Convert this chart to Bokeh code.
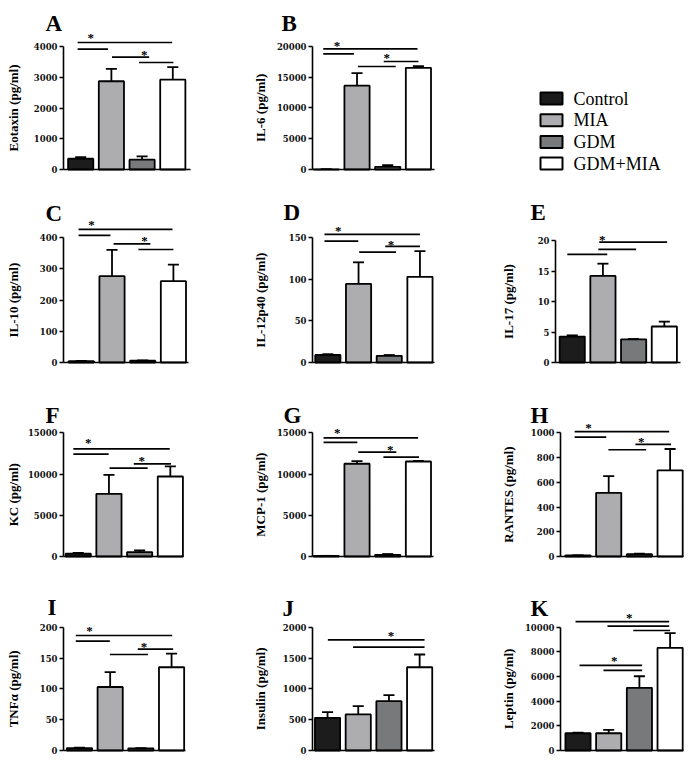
import math
from bokeh.plotting import figure
from bokeh.layouts import column, row
from bokeh.models import FixedTicker, Label, Range1d
from bokeh.core.properties import value
from bokeh.embed import file_html
from bokeh.resources import INLINE

# ---------------- data ----------------
groups = ["Control", "MIA", "GDM", "GDM+MIA"]
colors = ["#1c1c1c", "#adadb0", "#78797b", "#ffffff"]
group_x = [1, 2, 3, 4]

eotaxin = [350, 2870, 320, 2920]
eotaxin_err = [50, 400, 110, 410]
il6 = [30, 13600, 430, 16500]
il6_err = [20, 2030, 270, 270]
il10 = [4, 277, 6, 261]
il10_err = [1, 84, 1, 53]
il12p40 = [9, 94.5, 8, 103]
il12p40_err = [1, 26, 1, 31]
il17 = [4.25, 14.2, 3.8, 5.9]
il17_err = [0.2, 2.0, 0.05, 0.8]
kc = [360, 7600, 530, 9700]
kc_err = [70, 2300, 200, 1220]
mcp1 = [60, 11250, 200, 11520]
mcp1_err = [20, 320, 100, 60]
rantes = [8, 515, 18, 697]
rantes_err = [2, 134, 5, 172]
tnfa = [4, 103, 3.5, 135]
tnfa_err = [0.5, 24, 0.5, 22]
insulin = [530, 585, 800, 1350]
insulin_err = [92, 135, 97, 207]
leptin = [1400, 1400, 5080, 8330]
leptin_err = [50, 270, 940, 1190]

# significance bars: (from group position, to group position, level)
eotaxin_sig = [(0.9, 3.98, 4130), (0.9, 1.89, 3912), (2.02, 3.23, 3652), (2.9, 4.02, 3480)]
eotaxin_star = [(1.33, 4358), (3.07, 3805)]
il6_sig = [(0.9, 3.97, 19578), (0.9, 1.9, 18767), (2.03, 3.26, 16707), (2.87, 4.0, 17518)]
il6_star = [(1.35, 20487), (2.97, 18491)]
il10_sig = [(0.91, 3.97, 427), (0.91, 1.95, 407.5), (2.05, 3.25, 380.7), (2.86, 4.0, 362.5)]
il10_star = [(1.33, 448), (3.06, 396.8)]
il12p40_sig = [(0.89, 4.0, 154), (0.89, 1.99, 146), (2.02, 3.22, 132.7), (2.87, 4.0, 139.6)]
il12p40_star = [(1.34, 160.8), (3.06, 144)]
il17_sig = [(1.88, 4.09, 19.73), (1.85, 3.08, 18.53), (0.84, 2.14, 17.72)]
il17_star = [(1.98, 20.43)]
kc_sig = [(0.84, 3.98, 13060), (0.84, 1.99, 12414), (2.02, 3.26, 10716), (2.81, 4.02, 11241)]
kc_star = [(1.33, 14071), (3.07, 11848)]
mcp1_sig = [(0.91, 3.99, 14394), (0.91, 2.01, 13828), (2.04, 3.28, 12655), (2.86, 4.02, 12049)]
mcp1_star = [(1.36, 15283), (3.08, 13181)]
rantes_sig = [(0.89, 3.97, 1010), (0.89, 1.92, 965), (1.99, 3.22, 863), (2.87, 4.03, 906)]
rantes_star = [(1.34, 1059), (3.06, 944)]
tnfa_sig = [(0.88, 4.02, 186.5), (0.88, 1.99, 177.3), (1.99, 3.23, 155.7), (2.9, 4.05, 164.3)]
tnfa_star = [(1.33, 197.3), (3.1, 171.4)]
insulin_sig = [(1.01, 4.16, 1795), (1.83, 4.16, 1676)]
insulin_star = [(3.07, 1903)]
leptin_sig = [(0.92, 3.97, 10457), (1.96, 3.97, 10081), (2.8, 4.0, 9731), (1.05, 3.09, 6909), (1.83, 3.09, 6505)]
leptin_star = [(2.67, 10941), (2.18, 7446)]

eotaxin_ticks = [0, 1000, 2000, 3000, 4000]
il6_ticks = [0, 5000, 10000, 15000, 20000]
il10_ticks = [0, 100, 200, 300, 400]
il12p40_ticks = [0, 50, 100, 150]
il17_ticks = [0, 5, 10, 15, 20]
kc_ticks = [0, 5000, 10000, 15000]
mcp1_ticks = [0, 5000, 10000, 15000]
rantes_ticks = [0, 200, 400, 600, 800, 1000]
tnfa_ticks = [0, 50, 100, 150, 200]
insulin_ticks = [0, 500, 1000, 1500, 2000]
leptin_ticks = [0, 2000, 4000, 6000, 8000, 10000]

panels = [
    ("A", "Eotaxin (pg/ml)", eotaxin, eotaxin_err, eotaxin_sig, eotaxin_star, eotaxin_ticks),
    ("B", "IL-6 (pg/ml)", il6, il6_err, il6_sig, il6_star, il6_ticks),
    ("C", "IL-10 (pg/ml)", il10, il10_err, il10_sig, il10_star, il10_ticks),
    ("D", "IL-12p40 (pg/ml)", il12p40, il12p40_err, il12p40_sig, il12p40_star, il12p40_ticks),
    ("E", "IL-17 (pg/ml)", il17, il17_err, il17_sig, il17_star, il17_ticks),
    ("F", "KC (pg/ml)", kc, kc_err, kc_sig, kc_star, kc_ticks),
    ("G", "MCP-1 (pg/ml)", mcp1, mcp1_err, mcp1_sig, mcp1_star, mcp1_ticks),
    ("H", "RANTES (pg/ml)", rantes, rantes_err, rantes_sig, rantes_star, rantes_ticks),
    ("I", "TNF\u03b1 (pg/ml)", tnfa, tnfa_err, tnfa_sig, tnfa_star, tnfa_ticks),
    ("J", "Insulin (pg/ml)", insulin, insulin_err, insulin_sig, insulin_star, insulin_ticks),
    ("K", "Leptin (pg/ml)", leptin, leptin_err, leptin_sig, leptin_star, leptin_ticks),
]

# ---------------- layout (window pixel geometry; page has no margin) ----------------
cols = [(0, 230), (230, 460), (460, 690)]
rows_px = [(0, 182), (182, 372), (372, 564), (564, 760)]
zero_px = [169, 362, 556, 750]
ylab_cx = [12.5, 260, 508]
# letter: (row, col, axis_px, x_start, frame_w, tick_top_px, letter_x, letter_base)
geom = {
    "A": (0, 0, 63, 0.44, 127, 46.0, 45, 23),
    "B": (0, 1, 312, 0.55, 122, 45.7, 281, 23),
    "C": (1, 0, 63, 0.42, 125, 237.3, 45, 213),
    "D": (1, 1, 312, 0.50, 122, 237.3, 283, 212),
    "E": (1, 2, 555, 0.455, 125, 240.0, 530, 212),
    "F": (2, 0, 63, 0.52, 120, 432.3, 45, 415),
    "G": (2, 1, 312, 0.55, 121, 432.3, 283, 415),
    "H": (2, 2, 560, 0.43, 123, 432.3, 530, 415),
    "I": (3, 0, 63, 0.48, 122, 626.7, 47, 607),
    "J": (3, 1, 312, 0.51, 122, 626.7, 282, 608),
    "K": (3, 2, 560, 0.43, 123, 626.7, 530, 608),
}
UNIT = 30.7
SERIF = "Liberation Serif"


def base_fig(w, h, xr, yr):
    p = figure(width=w, height=h, x_range=xr, y_range=yr,
               output_backend="svg", toolbar_location=None, min_border=0)
    p.min_border_left = 0
    p.min_border_right = 0
    p.min_border_top = 0
    p.min_border_bottom = 0
    p.outline_line_color = None
    p.xgrid.visible = False
    p.ygrid.visible = False
    p.background_fill_color = "white"
    p.border_fill_color = "white"
    return p


def make_panel(letter, ylabel, means, errs, sig, stars, ticks):
    r, c, axis_px, xs, fw, ttop, lx, lb = geom[letter]
    cx0, cx1 = cols[c]
    ry0, ry1 = rows_px[r]
    B = zero_px[r]
    tmax = ticks[-1]
    sy = tmax / (B - ttop)
    x_lo = xs - (axis_px - cx0) / UNIT
    x_hi = xs + (cx1 - axis_px) / UNIT
    xe = xs + fw / UNIT
    y_lo = -(ry1 - B) * sy
    y_hi = (B - ry0) * sy
    p = base_fig(cx1 - cx0, ry1 - ry0, Range1d(x_lo, x_hi), Range1d(y_lo, y_hi))

    ax = p.yaxis[0]
    ax.fixed_location = xs
    ax.ticker = FixedTicker(ticks=ticks)
    ax.bounds = (0, tmax)
    ax.axis_line_width = 1.6
    ax.axis_line_color = "black"
    ax.major_tick_line_width = 1.6
    ax.major_tick_out = 4
    ax.major_tick_in = 0
    ax.minor_tick_out = 0
    ax.minor_tick_in = 0
    ax.major_label_standoff = 2
    ax.major_label_text_font = "DejaVu Serif"
    ax.major_label_text_font_style = "bold"
    ax.major_label_text_font_size = "8.5px"
    ax.major_label_text_color = "#111111"

    bx = p.xaxis[0]
    bx.fixed_location = 0
    bx.ticker = FixedTicker(ticks=[])
    bx.bounds = (xs, xe)
    bx.axis_line_width = 1.6
    bx.axis_line_color = "black"
    bx.major_tick_out = 0
    bx.major_tick_in = 0
    bx.minor_tick_out = 0
    bx.minor_tick_in = 0
    bx.major_label_text_font_size = "0px"

    tops = [m + e for m, e in zip(means, errs)]
    p.segment(x0=group_x, x1=group_x, y0=means, y1=tops, line_color="black", line_width=1.8)
    p.segment(x0=[g - 0.18 for g in group_x], x1=[g + 0.18 for g in group_x],
              y0=tops, y1=tops, line_color="black", line_width=1.8)
    p.vbar(x=group_x, top=means, width=0.82, fill_color=colors,
           line_color="black", line_width=1.8)

    p.segment(x0=[s[0] for s in sig], x1=[s[1] for s in sig],
              y0=[s[2] for s in sig], y1=[s[2] for s in sig],
              line_color="black", line_width=1.7)
    p.text(x=[s[0] for s in stars], y=[s[1] for s in stars], text=["*"] * len(stars),
           text_font=value(SERIF), text_font_style="bold", text_font_size="13px",
           text_align="center", text_baseline="middle", y_offset=2, text_color="black")

    # panel letter
    p.add_layout(Label(x=xs + (lx - axis_px) / UNIT, y=(B - lb) * sy, text=letter,
                       text_font=SERIF, text_font_style="bold", text_font_size="23px",
                       text_align="left", text_baseline="alphabetic", text_color="black"))
    # y-axis title
    p.add_layout(Label(x=xs + (ylab_cx[c] - axis_px) / UNIT, y=tmax / 2, text=ylabel,
                       angle=math.pi / 2, text_font=SERIF, text_font_style="bold",
                       text_font_size="13px", text_align="center", text_baseline="middle",
                       text_color="black"))
    return p


figs = {pn[0]: make_panel(*pn) for pn in panels}

# legend cell (pixel coordinates of the cell, y downwards)
lw = cols[2][1] - cols[2][0]
lh = rows_px[0][1] - rows_px[0][0]
lg = base_fig(lw, lh, Range1d(0, lw), Range1d(lh, 0))
lg.xaxis.visible = False
lg.yaxis.visible = False
leg_y = [98 + 21.7 * i for i in range(len(groups))]
lg.rect(x=[91] * len(groups), y=leg_y, width=22, height=12,
        fill_color=colors, line_color="black", line_width=2)
lg.text(x=[113] * len(groups), y=leg_y, text=groups,
        text_font=value(SERIF), text_font_size="18px",
        text_align="left", text_baseline="middle", text_color="black")

layout = column(
    row(figs["A"], figs["B"], lg),
    row(figs["C"], figs["D"], figs["E"]),
    row(figs["F"], figs["G"], figs["H"]),
    row(figs["I"], figs["J"], figs["K"]),
)

open("out.html", "w").write(file_html(layout, INLINE))
